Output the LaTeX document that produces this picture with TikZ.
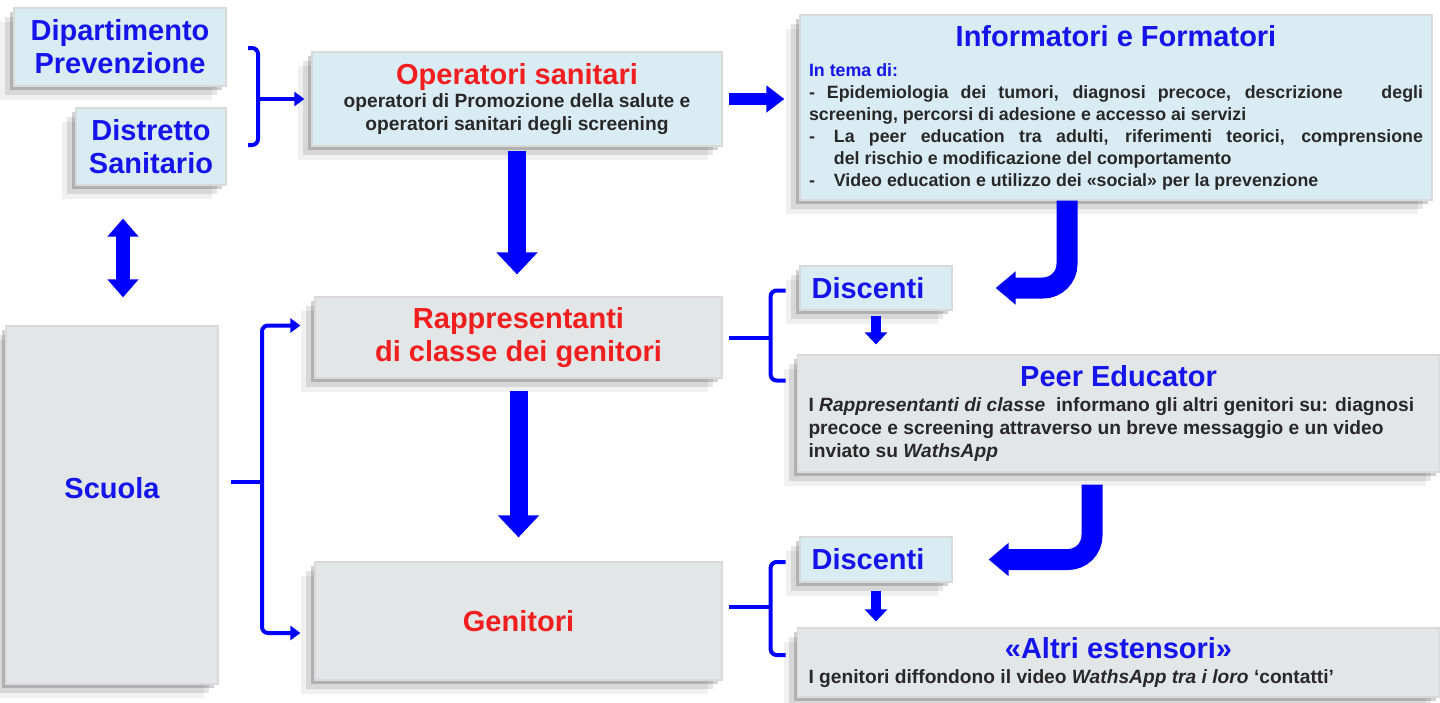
\documentclass[tikz,border=0pt]{standalone}
\usepackage{fontspec}
\setmainfont{Liberation Sans}
\usetikzlibrary{arrows.meta,shadows}
\definecolor{boxblue}{RGB}{218,236,243}
\definecolor{boxgray}{RGB}{226,230,231}
\definecolor{txtblue}{RGB}{20,20,235}
\definecolor{txtred}{RGB}{240,30,30}
\definecolor{arrblue}{RGB}{0,0,255}
\definecolor{bodygray}{RGB}{40,40,40}

\newcommand{\headfont}{\fontsize{14.5}{16.5}\selectfont\bfseries}
\newcommand{\opfont}{\fontsize{9.6}{11.6}\selectfont\bfseries\color{bodygray}}
\newcommand{\infofont}{\fontsize{8.9}{11}\selectfont\bfseries\color{bodygray}}

\tikzset{
  box/.style={rectangle, draw=black!15, line width=0.6pt, inner sep=0pt, font=\headfont, align=flush center,
    drop shadow={shadow xshift=-7pt, shadow yshift=-7pt, opacity=.06, fill=black},
    drop shadow={shadow xshift=-4.5pt, shadow yshift=-4.5pt, opacity=.1, fill=black},
    drop shadow={shadow xshift=-2pt, shadow yshift=-2pt, opacity=.18, fill=black}},
  bluebox/.style={box, fill=boxblue},
  graybox/.style={box, fill=boxgray},
  bracketline/.style={draw=arrblue, line width=2pt, rounded corners=3pt},
  stemtip/.style={-{Triangle[length=5pt,width=7pt]}},
  bigarrow/.style={draw=arrblue, line width=9pt, -{Triangle[length=11pt,width=20pt]}},
  curvearrow/.style={draw=arrblue, line width=10.5pt, rounded corners=12pt, -{Triangle[length=10pt,width=16pt]}},
  smallarrow/.style={draw=arrblue, line width=5pt, -{Triangle[length=6pt,width=11pt]}},
}

\begin{document}
\begin{tikzpicture}[x=0.5pt, y=-0.5pt]
\fill[white] (0,0) rectangle (1440,702);
\useasboundingbox (0,0) rectangle (1440,702);

% Boxes, left column
\node[bluebox, text=txtblue, minimum width=106pt, minimum height=39pt, text width=100pt] (dip) at (120,47) {Dipartimento\\Prevenzione};
\node[bluebox, text=txtblue, minimum width=75pt, minimum height=38.5pt, text width=70pt] (dist) at (151,146.5) {Distretto\\Sanitario};
\node[graybox, text=txtblue, minimum width=106pt, minimum height=179pt, text width=100pt] (scuola) at (112,505) {\raisebox{17pt}{Scuola}};

% Boxes, middle column
\node[bluebox, text=txtred, minimum width=205pt, minimum height=47pt, text width=200pt] (oper) at (517,99)
  {{Operatori sanitari\par}{\opfont operatori di Promozione della salute e\\operatori sanitari degli screening\par}};
\node[graybox, text=txtred, minimum width=203.5pt, minimum height=40.5pt, text width=200pt] (rapp) at (518.5,337.5) {Rappresentanti\\di classe dei genitori};
\node[graybox, text=txtred, minimum width=203.5pt, minimum height=59pt, text width=200pt] (gen) at (518.5,621) {Genitori};

% Boxes, right column
\node[bluebox, text=txtblue, minimum width=316pt, minimum height=92.5pt, text width=307pt, align=justify] (info) at (1116,107.5)
  {{\centering Informatori e Formatori\par}
   \vspace{4pt}
   {\infofont
   {\color{txtblue}In tema di:}\par
   - Epidemiologia dei tumori, diagnosi precoce, descrizione\hspace{1.5em} degli\linebreak
   screening, percorsi di adesione e accesso ai servizi\par
   \hangindent=1.4em\hangafter=1
   \makebox[1.4em][l]{-}La peer education tra adulti, riferimenti teorici, comprensione\linebreak
   del rischio e modificazione del comportamento\par
   \makebox[1.4em][l]{-}Video education e utilizzo dei «social» per la prevenzione\par}};
\node[bluebox, text=txtblue, minimum width=76pt, minimum height=22pt, text width=70pt] (disc1) at (876,288) {\hspace*{-8pt}Discenti};
\node[graybox, text=txtblue, minimum width=321pt, minimum height=58.5pt, text width=310pt, align=justify] (peer) at (1118.5,413.5)
  {{\centering Peer Educator\par}
   \vspace{1pt}
   {\opfont I \textit{Rappresentanti di classe}\ \ informano gli altri genitori su: diagnosi\\
   precoce e screening attraverso un breve messaggio e un video\\
   inviato su \textit{WathsApp}\par}};
\node[bluebox, text=txtblue, minimum width=76pt, minimum height=22.5pt, text width=70pt] (disc2) at (876,559.5) {\hspace*{-8pt}Discenti};
\node[graybox, text=txtblue, minimum width=321pt, minimum height=34.5pt, text width=310pt, align=justify] (altri) at (1118.5,662.5)
  {{\centering «Altri estensori»\par}
   \vspace{1pt}
   {\opfont I genitori diffondono il video \textit{WathsApp tra i loro} `contatti'\par}};

% Brackets
\coordinate (brk1) at (258,99);
\draw[bracketline] (brk1) ++(-10,-51) -- ++(10,0) -- ++(0,97) -- ++(-10,0);
\draw[bracketline, stemtip, shorten >=3.5pt] (brk1) -- (oper.west);

\coordinate (brk2) at (262,482);
\draw[bracketline] ([xshift=6pt]scuola.east |- brk2) -- (brk2);
\draw[bracketline, stemtip, shorten >=7pt] (brk2) |- ([yshift=6pt]rapp.west);
\draw[bracketline, stemtip, shorten >=7pt] (brk2) |- ([yshift=-6pt]gen.west);

\coordinate (brk3) at ([xshift=24pt]rapp.east);
\draw[bracketline] ([xshift=3pt]rapp.east) -- (brk3);
\draw[bracketline] (brk3) ++(15,-47) -- ++(-15,0) -- ++(0,90) -- ++(15,0);

\coordinate (brk4) at ([xshift=24pt,yshift=7pt]gen.east);
\draw[bracketline] ([xshift=3pt,yshift=7pt]gen.east) -- (brk4);
\draw[bracketline] (brk4) ++(15,-45) -- ++(-15,0) -- ++(0,93) -- ++(15,0);

% Block arrows
\draw[bigarrow, line width=6pt, -{Triangle[length=9pt,width=13pt]}, shorten <=3pt, shorten >=7.5pt] (oper.east) -- (oper.east -| info.west);
\draw[bigarrow, shorten <=2pt, shorten >=11pt] (oper.south) -- (oper.south |- rapp.north);
\draw[bigarrow, shorten <=6pt, shorten >=12pt] (rapp.south) -- (rapp.south |- gen.north);
\draw[bigarrow, line width=7pt, {Triangle[length=9pt,width=15pt]}-{Triangle[length=9pt,width=15pt]}, shorten <=16.5pt, shorten >=14pt]
  ([xshift=-14pt]dist.south) -- ([xshift=-14pt]dist.south |- scuola.north);
\draw[curvearrow, shorten >=21.5pt] ([xshift=-24.5pt]info.south) |- (disc1.east);
\draw[curvearrow, shorten <=6pt, shorten >=18pt] ([xshift=-13.25pt]peer.south) |- (disc2.east);
\draw[smallarrow, shorten <=2.5pt, shorten >=5pt] (disc1.south) -- (disc1.south |- peer.north);
\draw[smallarrow, shorten <=4pt, shorten >=3pt] (disc2.south) -- (disc2.south |- altri.north);
\end{tikzpicture}
\end{document}
